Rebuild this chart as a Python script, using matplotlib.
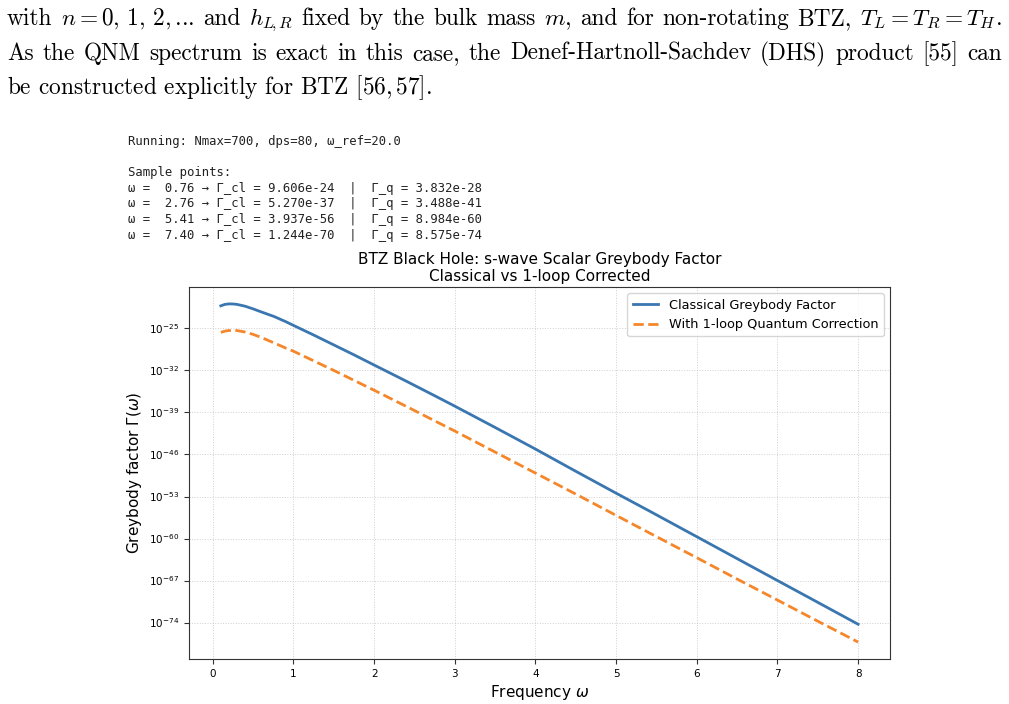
import matplotlib
matplotlib.use('Agg')
import matplotlib.pyplot as plt
from matplotlib.ticker import FixedLocator, NullLocator
import numpy as np

# values (log10 of the greybody factor)
omega = [0.1, 0.15, 0.2, 0.25, 0.3, 0.4, 0.5, 0.6, 0.76, 0.9, 1.0, 1.25, 1.5,
         1.75, 2.0, 2.4, 2.76, 3.0, 3.5, 4.0, 4.5, 5.0, 5.41, 6.0, 6.5, 7.0,
         7.4, 8.0]
log_gamma_cl = [-21.24, -21.0, -20.92, -20.93, -21.0, -21.3, -21.75, -22.25,
                -23.02, -23.85, -24.5, -26.1, -27.75, -29.4, -31.1, -33.8,
                -36.28, -37.95, -41.5, -45.1, -48.8, -52.45, -55.40, -59.7,
                -63.35, -67.0, -69.905, -74.28]
log_gamma_q = [-25.66, -25.45, -25.36, -25.33, -25.36, -25.6, -26.0, -26.5,
               -27.42, -28.25, -28.8, -30.4, -32.0, -33.65, -35.3, -38.0,
               -40.46, -42.1, -45.6, -49.1, -52.6, -56.15, -59.05, -63.2,
               -66.75, -70.25, -73.07, -77.25]
ytick_exp = [-74, -67, -60, -53, -46, -39, -32, -25]
xticks = [0, 1, 2, 3, 4, 5, 6, 7, 8]

console_lines = [
    "Running: Nmax=700, dps=80, \u03c9_ref=20.0",
    "",
    "Sample points:",
    "\u03c9 =  0.76 \u2192 \u0393_cl = 9.606e-24  |  \u0393_q = 3.832e-28",
    "\u03c9 =  2.76 \u2192 \u0393_cl = 5.270e-37  |  \u0393_q = 3.488e-41",
    "\u03c9 =  5.41 \u2192 \u0393_cl = 3.937e-56  |  \u0393_q = 8.984e-60",
    "\u03c9 =  7.40 \u2192 \u0393_cl = 1.244e-70  |  \u0393_q = 8.575e-74",
]

line1 = ["with", r"$n=0,\,1,\,2,$...", "and", r"$h_{L\!,R}$", "fixed", "by",
         "the", "bulk", "mass", r"$m$,", "and", "for", "non-rotating", "BTZ,",
         r"$T_L=T_R=T_H$."]
line2 = ["As", "the", "QNM", "spectrum", "is", "exact", "in", "this", "case,",
         "the", "Denef-Hartnoll-Sachdev", "(DHS)", "product", "[55]", "can"]
line3 = r"be constructed explicitly for BTZ [56,$\,$57]."

W, H = 1009, 704
fig = plt.figure(figsize=(W / 100, H / 100), dpi=100)
renderer = fig.canvas.get_renderer()

para = dict(family='cmr10', math_fontfamily='cm', fontsize=16.8,
            color='black', va='baseline', ha='left')


def justify(tokens, ybase, x0=7, x1=1002):
    texts = [fig.text(0, 1 - ybase / H, t, **para) for t in tokens]
    widths = [t.get_window_extent(renderer).width for t in texts]
    gap = (x1 - x0 - sum(widths)) / (len(tokens) - 1)
    x = x0
    for t, w in zip(texts, widths):
        t.set_x(x / W)
        x += w + gap


justify(line1, 25)
justify(line2, 60)
fig.text(7 / W, 1 - 94 / H, line3, **para)

# console output
for i, s in enumerate(console_lines):
    fig.text(128 / W, 1 - (144.5 + 15.7 * i) / H, s, family='DejaVu Sans Mono',
             fontsize=8.8, color='#222222', va='baseline', ha='left')

# chart
ax = fig.add_axes([189 / W, 1 - 659 / H, (890 - 189) / W, (659 - 287) / H])
ax.plot(omega, 10.0 ** np.array(log_gamma_cl), color='#3a76b0', lw=2,
        label='Classical Greybody Factor')
ax.plot(omega, 10.0 ** np.array(log_gamma_q), color='#f5872a', lw=2, ls='--',
        label='With 1-loop Quantum Correction')
ax.set_yscale('log')
ax.yaxis.set_major_locator(FixedLocator([10.0 ** e for e in ytick_exp]))
ax.yaxis.set_minor_locator(NullLocator())
ax.set_xticks(xticks)
ax.tick_params(labelsize=7.5, color='#333333')
for sp in ax.spines.values():
    sp.set_color('#333333')
ax.grid(True, linestyle=':', linewidth=0.7, alpha=0.6)
ax.set_xlabel(r'Frequency $\omega$', fontsize=11, labelpad=3)
ax.set_ylabel(r'Greybody factor $\Gamma(\omega)$', fontsize=11)
ax.set_title('BTZ Black Hole: s-wave Scalar Greybody Factor\n'
             'Classical vs 1-loop Corrected', fontsize=11, pad=4)
ax.legend(fontsize=9.3, loc='upper right')

fig.savefig('out.png', dpi=100)
